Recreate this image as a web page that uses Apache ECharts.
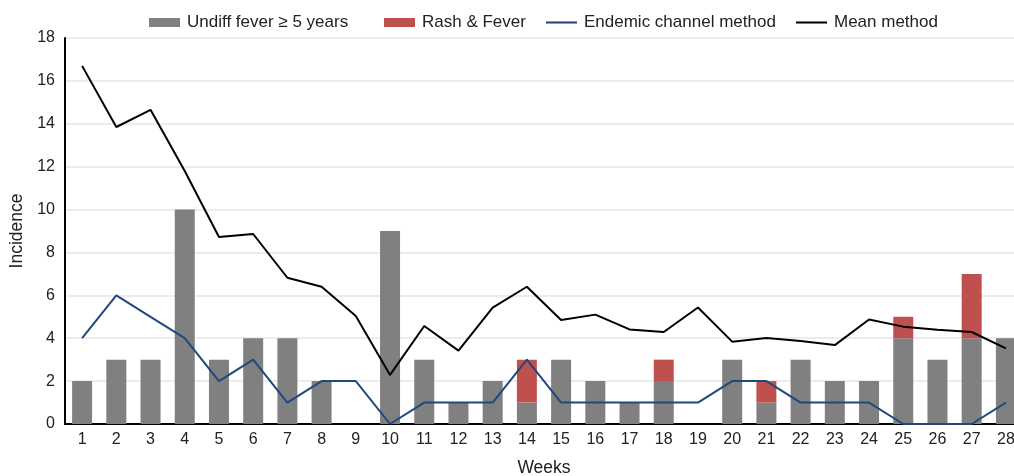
<!DOCTYPE html>
<html>
<head>
    <meta charset="UTF-8">
    <title>Incidence by week</title>
    <script src="https://cdn.jsdelivr.net/npm/echarts@6/dist/echarts.min.js"></script>
    <style>
        html, body { margin: 0; padding: 0; background: #fff; }
        #chart { width: 1014px; height: 476px; }
    </style>
</head>
<body>
<div id="chart"></div>
<script>
    // 数据
    var weeks = ['1','2','3','4','5','6','7','8','9','10','11','12','13','14',
                 '15','16','17','18','19','20','21','22','23','24','25','26','27','28'];
    var undiffFever = [2, 3, 3, 10, 3, 4, 4, 2, 0, 9, 3, 1, 2, 1, 3, 2, 1, 2, 0, 3, 1, 3, 2, 2, 4, 3, 4, 4];
    var rashFever   = [0, 0, 0, 0, 0, 0, 0, 0, 0, 0, 0, 0, 0, 2, 0, 0, 0, 1, 0, 0, 1, 0, 0, 0, 1, 0, 3, 0];
    var endemic     = [4, 6, 5, 4, 2, 3, 1, 2, 2, 0, 1, 1, 1, 3, 1, 1, 1, 1, 1, 2, 2, 1, 1, 1, 0, 0, 0, 1];
    var meanMethod  = [16.7, 13.85, 14.65, 11.8, 8.72, 8.86, 6.82, 6.4, 5.04, 2.29, 4.57, 3.42, 5.43, 6.4,
                       4.85, 5.1, 4.41, 4.29, 5.43, 3.84, 4.01, 3.87, 3.68, 4.87, 4.54, 4.4, 4.29, 3.53];

    var font = 'Liberation Sans, Arial, sans-serif';
    var linePath = 'path://M0,4 L30,4 L30,6 L0,6 Z';
    var myChart = echarts.init(document.getElementById('chart'));

    // 每个图例单独放置，间距跟原图一致
    function legendItem(name, icon, left) {
        return {
            top: 9,
            left: left,
            itemWidth: 31,
            itemHeight: 9,
            textStyle: {fontSize: 17, color: '#222', fontFamily: font, padding: [0, 0, 0, 2]},
            data: [{name: name, icon: icon}]
        };
    }

    var option = {
        animation: false,
        textStyle: {fontFamily: font},
        legend: [
            legendItem('Undiff fever ≥ 5 years', 'rect', 144),
            legendItem('Rash & Fever', 'rect', 379),
            legendItem('Endemic channel method', linePath, 541),
            legendItem('Mean method', linePath, 791)
        ],
        grid: {
            left: 65,
            top: 38,
            width: 958,
            height: 386,
            outerBoundsMode: 'none'
        },
        xAxis: {
            type: 'category',
            data: weeks,
            name: 'Weeks',
            nameLocation: 'middle',
            nameGap: 35,
            nameTextStyle: {fontSize: 17.5, color: '#222'},
            axisLine: {lineStyle: {color: '#000', width: 2}},
            axisTick: {show: false},
            axisLabel: {fontSize: 16, color: '#222', margin: 8}
        },
        yAxis: {
            type: 'value',
            min: 0,
            max: 18,
            interval: 2,
            name: 'Incidence',
            nameLocation: 'middle',
            nameGap: 38,
            nameTextStyle: {fontSize: 17.5, color: '#222'},
            axisLine: {show: true, lineStyle: {color: '#000', width: 2}},
            axisTick: {show: false},
            axisLabel: {fontSize: 16, color: '#222', margin: 10},
            splitLine: {lineStyle: {color: '#ececec', width: 2}}
        },
        series: [
            {
                name: 'Undiff fever ≥ 5 years',
                type: 'bar',
                stack: 'cases',
                barWidth: 20,
                itemStyle: {color: '#808080'},
                data: undiffFever
            },
            {
                name: 'Rash & Fever',
                type: 'bar',
                stack: 'cases',
                barWidth: 20,
                itemStyle: {color: '#c0504d'},
                data: rashFever
            },
            {
                name: 'Endemic channel method',
                type: 'line',
                symbol: 'none',
                z: 5,
                lineStyle: {color: '#1f497d', width: 2},
                itemStyle: {color: '#1f497d'},
                data: endemic
            },
            {
                name: 'Mean method',
                type: 'line',
                symbol: 'none',
                z: 5,
                lineStyle: {color: '#000', width: 2},
                itemStyle: {color: '#000'},
                data: meanMethod
            }
        ]
    };
    myChart.setOption(option);
</script>
</body>
</html>
